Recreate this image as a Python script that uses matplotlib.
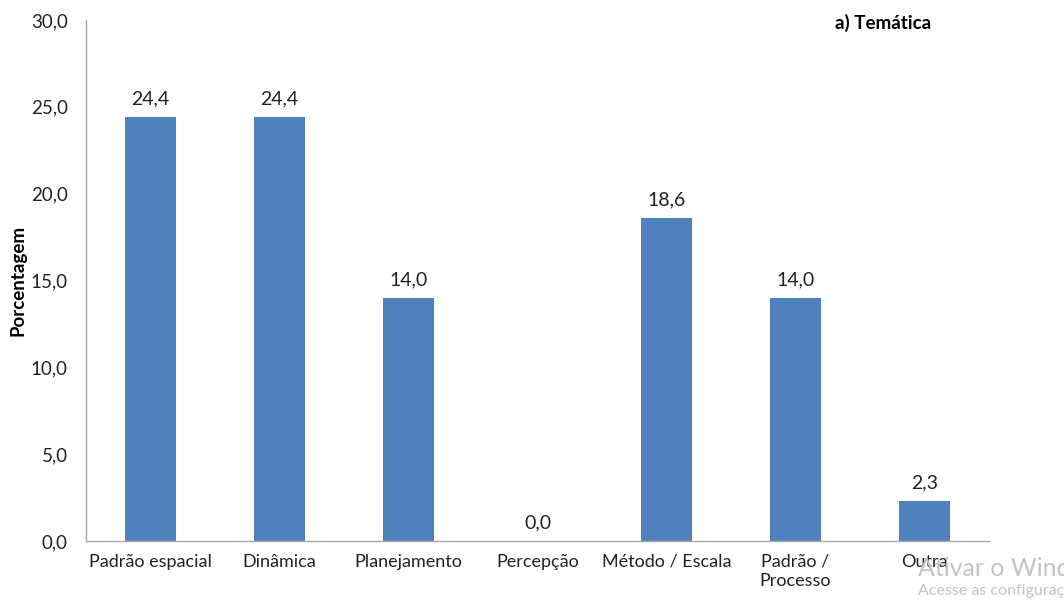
import numpy as np
import matplotlib.pyplot as plt

categorias = ["Padrão espacial", "Dinâmica", "Planejamento", "Percepção",
              "Método / Escala", "Padrão /\nProcesso", "Outra"]
porcentagem = [24.4, 24.4, 14.0, 0.0, 18.6, 14.0, 2.3]
yticks = [0, 5, 10, 15, 20, 25, 30]

plt.rcParams["font.family"] = ["Lato", "DejaVu Sans"]

fig = plt.figure(figsize=(10.64, 6.0), dpi=100)
ax = fig.add_axes([0.0808, 0.0983, 0.8487, 0.8684])

x = np.arange(len(categorias))
bars = ax.bar(x, porcentagem, width=0.4, color="#4F81BD")

for xi, v in zip(x, porcentagem):
    ax.text(xi, v + 0.55, f"{v:.1f}".replace(".", ","), ha="center", va="bottom",
            fontsize=14, color="#222222")

ax.set_xlim(-0.5, len(categorias) - 0.5)
ax.set_ylim(0, 30)
ax.set_yticks(yticks)
ax.set_yticklabels([f"{t:.1f}".replace(".", ",") for t in yticks], fontsize=13.5, color="#222222")
ax.set_xticks(x)
ax.set_xticklabels(categorias, fontsize=13, color="#222222", va="top", linespacing=1.25)
ax.tick_params(length=0)
ax.tick_params(axis="x", pad=9)
ax.tick_params(axis="y", pad=13)

for s in ["top", "right"]:
    ax.spines[s].set_visible(False)
for s in ["left", "bottom"]:
    ax.spines[s].set_color("#a6a6a6")
    ax.spines[s].set_linewidth(1)

ax.set_ylabel("Porcentagem", fontsize=13.5, fontweight="bold", labelpad=3)

fig.text(0.785, 0.962, "a) Temática", fontsize=13.5, fontweight="bold", va="center")

# marca d'água presente na captura de tela
fig.text(0.863, 0.053, "Ativar o Windows", fontsize=18, color="#c4c4c4", va="center")
fig.text(0.863, 0.015, "Acesse as configurações", fontsize=11.5, color="#c4c4c4", va="center")

fig.savefig("out.png", dpi=100)
